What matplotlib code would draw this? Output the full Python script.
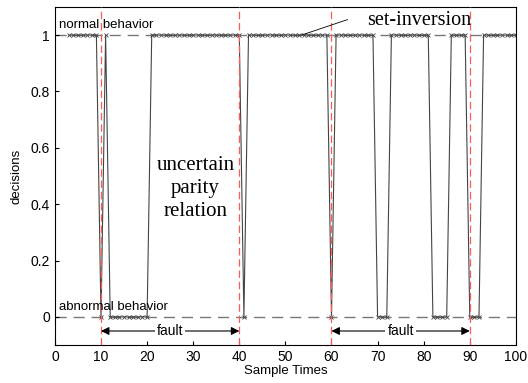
import matplotlib.pyplot as plt

# sample times and detector decisions (1 = normal, 0 = abnormal)
sample_times = list(range(3, 101))
decisions = [1, 1, 1, 1, 1, 1, 1,                          # 3-9
             0, 1, 0, 0, 0, 0, 0, 0, 0, 0, 0,              # 10-20
             1, 1, 1, 1, 1, 1, 1, 1, 1, 1,                 # 21-30
             1, 1, 1, 1, 1, 1, 1, 1, 1, 1,                 # 31-40
             0, 1, 1, 1, 1, 1, 1, 1, 1, 1,                 # 41-50
             1, 1, 1, 1, 1, 1, 1, 1, 1, 0,                 # 51-60
             1, 1, 1, 1, 1, 1, 1, 1, 1, 0,                 # 61-70
             0, 0, 1, 1, 1, 1, 1, 1, 1, 1,                 # 71-80
             1, 0, 0, 0, 0, 1, 1, 1, 1, 0,                 # 81-90
             0, 0, 1, 1, 1, 1, 1, 1, 1, 1]                 # 91-100

fault_bounds = [10, 40, 60, 90]
fault_spans = [(10, 40), (60, 90)]

plt.rcParams['font.family'] = ['Liberation Sans', 'DejaVu Sans']

fig = plt.figure(figsize=(5.28, 3.83), dpi=100)
ax = fig.add_axes([0.104, 0.099, 0.873, 0.883])

ax.axhline(1, color='#777777', ls=(0, (8, 5)), lw=1.0, zorder=1)
ax.axhline(0, color='#777777', ls=(0, (8, 5)), lw=1.0, zorder=1)
for xb in fault_bounds:
    ax.axvline(xb, color='#ff5a5a', ls=(0, (6, 3)), lw=0.9, zorder=3)

ax.plot(sample_times, decisions, color='#444444', lw=0.8, marker='x',
        ms=3.5, mew=0.6, zorder=2)

ax.text(0.8, 1.015, 'normal behavior', fontsize=9.5, va='bottom', ha='left')
ax.text(0.8, 0.015, 'abnormal behavior', fontsize=9.5, va='bottom', ha='left')

for a, b in fault_spans:
    ax.annotate('', xy=(a, -0.05), xytext=(b, -0.05),
                arrowprops=dict(arrowstyle='<|-|>', color='black', lw=0.8,
                                mutation_scale=12, shrinkA=0, shrinkB=0))
    ax.text((a + b) / 2, -0.05, 'fault', fontsize=10, ha='center', va='center',
            bbox=dict(facecolor='white', edgecolor='none', pad=1.5))

# leader line of the set-inversion label
ax.annotate('', xy=(53.5, 1.0), xytext=(63.5, 1.055),
            arrowprops=dict(arrowstyle='-', color='black', lw=0.6,
                            shrinkA=0, shrinkB=0))
ax.text(79, 1.05, 'set-inversion', fontsize=14.5, family='Liberation Serif',
        ha='center', va='center')
ax.text(30.5, 0.455, 'uncertain\nparity\nrelation', fontsize=15,
        family='Liberation Serif', ha='center', va='center', linespacing=1.3)

ax.set_xlim(0, 100)
ax.set_ylim(-0.1, 1.1)
ax.set_xticks(range(0, 101, 10))
ax.set_yticks([0, 0.2, 0.4, 0.6, 0.8, 1])
ax.set_yticklabels(['0', '0.2', '0.4', '0.6', '0.8', '1'])
ax.tick_params(direction='in', labelsize=10, length=3)
ax.set_xlabel('Sample Times', fontsize=9.5, labelpad=1)
ax.set_ylabel('decisions', fontsize=9.5, labelpad=6)

fig.savefig('out.png', dpi=100)
